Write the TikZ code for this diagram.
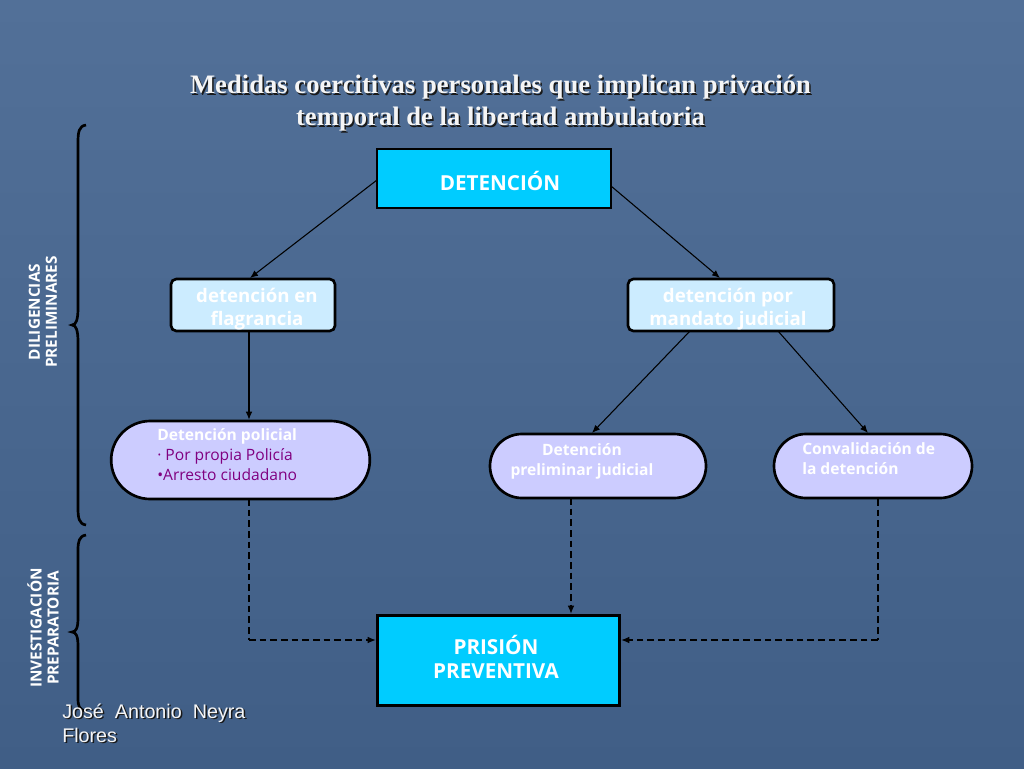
\documentclass[tikz,border=0pt]{standalone}
\usepackage{fontspec}
\setmainfont{Liberation Serif}
\newfontfamily\boxfont{Open Sans}
\newfontfamily\authfont{Liberation Sans}
\usetikzlibrary{arrows.meta,shapes.misc}
\definecolor{bgtop}{RGB}{82,112,152}
\definecolor{bgbot}{RGB}{64,94,134}
\definecolor{cyanbox}{RGB}{0,204,255}
\definecolor{lightbox}{RGB}{204,236,255}
\definecolor{lavbox}{RGB}{204,204,255}
\definecolor{purp}{RGB}{128,0,128}
\definecolor{titlefill}{RGB}{245,245,245}
\tikzset{
  rbox/.style={draw=black, line width=2pt, fill=lightbox, rounded corners=4pt, inner sep=0pt},
  cbox/.style={draw=black, line width=2.2pt, fill=cyanbox, inner sep=0pt},
  pill/.style={draw=black, line width=2pt, fill=lavbox, rounded rectangle, inner sep=0pt},
  boxtxt/.style={text=white, font=\boxfont\bfseries\fontsize{14pt}{17pt}\selectfont, align=center, inner sep=0pt},
  captxt/.style={text=white, font=\boxfont\bfseries\fontsize{15.5pt}{18pt}\selectfont, align=center, inner sep=0pt},
  smalltxt/.style={font=\boxfont\bfseries\fontsize{11.7pt}{15pt}\selectfont, align=left, inner sep=0pt},
  sidetxt/.style={text=white, font=\boxfont\bfseries\fontsize{11.5pt}{12.75pt}\selectfont, align=center, inner sep=0pt, rotate=90},
  arr/.style={draw=black, line width=0.8pt, -{Latex[length=6pt,width=5pt]}},
  darr/.style={draw=black, line width=0.8pt, dash pattern=on 5pt off 3pt, -{Latex[length=6pt,width=5pt]}},
  dline/.style={draw=black, line width=0.8pt, dash pattern=on 5pt off 3pt},
  brace/.style={draw=black, line width=2pt},
  titletxt/.style={font=\bfseries\fontsize{20pt}{24pt}\selectfont, align=center, inner sep=0pt},
  authtxt/.style={font=\authfont\fontsize{14.8pt}{18pt}\selectfont, align=left, inner sep=0pt, anchor=north west}
}
\begin{document}
\begin{tikzpicture}[x=0.75pt,y=-0.75pt]
\useasboundingbox (0,0) rectangle (1024,768);
\shade[top color=bgtop, bottom color=bgbot] (0,0) rectangle (1024,768);

% title
\node[titletxt, text=black!90] (titleshadow) at (502,105) {Medidas coercitivas personales que implican privación\\temporal de la libertad ambulatoria};
\node[titletxt, text=titlefill] (title) at (500.5,103.5) {Medidas coercitivas personales que implican privación\\temporal de la libertad ambulatoria};

% boxes
\node[cbox, minimum width=175.5pt, minimum height=44.25pt] (det) at (494,178.5) {};
\node[captxt] (dett) at (500,181) {DETENCIÓN};

\node[rbox, minimum width=123pt, minimum height=39pt] (flag) at (253,305) {};
\node[boxtxt] (flagt) at (257,309) {detención en\\flagrancia};

\node[rbox, minimum width=154.5pt, minimum height=39pt] (mand) at (731,305) {};
\node[boxtxt] (mandt) at (728,309) {detención por\\mandato judicial};

\node[pill, minimum width=194pt, minimum height=58.5pt] (pol) at (240.5,460) {};
\node[smalltxt, anchor=north west] (polt) at (157,428) {\textcolor{white}{Detención policial}\\\textcolor{purp}{\mdseries · Por propia Policía}\\\textcolor{purp}{\mdseries \textbullet Arresto ciudadano}};

\node[pill, minimum width=162pt, minimum height=48pt] (pre) at (598,466) {};
\node[smalltxt, text=white, align=center] (pret) at (582,461) {Detención\\preliminar judicial};

\node[pill, minimum width=148.5pt, minimum height=48pt] (conv) at (873,466) {};
\node[smalltxt, text=white, anchor=north west] (convt) at (802,442) {Convalidación de\\la detención};

\node[cbox, minimum width=182pt, minimum height=68pt] (pris) at (498.5,660.5) {};
\node[captxt] (prist) at (496,657) {PRISIÓN\\PREVENTIVA};

% solid arrows
\coordinate (d1) at (377,180);
\coordinate (d2) at (611,186);
\coordinate (fl) at (250,278);
\coordinate (md) at (720,278);
\draw[arr] (d1) -- (fl);
\draw[arr] (d2) -- (md);
\coordinate (fs) at (249,331);
\draw[arr] (fs) -- (fs |- pol.north);
\coordinate (m1) at (690,331);
\coordinate (m2) at (778,331);
\coordinate (p1) at (592,433);
\coordinate (c1) at (868,433);
\draw[arr] (m1) -- (p1);
\draw[arr] (m2) -- (c1);

% dashed
\coordinate (pb) at (249,499);
\coordinate (pc) at (249,640);
\draw[dline] (pb) -- (pc);
\draw[darr] (pc) -- (pris.west |- pc);
\coordinate (rb) at (571,498);
\draw[darr] (rb) -- (rb |- pris.north);
\coordinate (cb) at (878,499);
\coordinate (cc) at (878,640);
\draw[dline] (cb) -- (cc);
\draw[darr] (cc) -- (pris.east |- cc);

% braces
\draw[brace] (86,125) .. controls (79,126) and (78,132) .. (78,142) -- (78,308)
  .. controls (78,320) and (76,325) .. (72,325) .. controls (76,325) and (78,330) .. (78,342)
  -- (78,508) .. controls (78,518) and (79,524) .. (86,525);
\draw[brace] (86,535) .. controls (79,536) and (78,542) .. (78,550) -- (78,618)
  .. controls (78,628) and (76,632) .. (72,632) .. controls (76,632) and (78,636) .. (78,646)
  -- (78,698) .. controls (78,706) and (79,710) .. (86,711);

% side labels
\node[sidetxt] (dil) at (43,312) {DILIGENCIAS\\PRELIMINARES};
\node[sidetxt] (inv) at (43,628) {INVESTIGACIÓN\\PREPARATORIA};

% author
\node[authtxt, text=black!90] (authsh) at (63.5,705) {José\ \ Antonio\ \ Neyra\\Flores};
\node[authtxt, text=titlefill] (auth) at (62,703.5) {José\ \ Antonio\ \ Neyra\\Flores};
\end{tikzpicture}
\end{document}
